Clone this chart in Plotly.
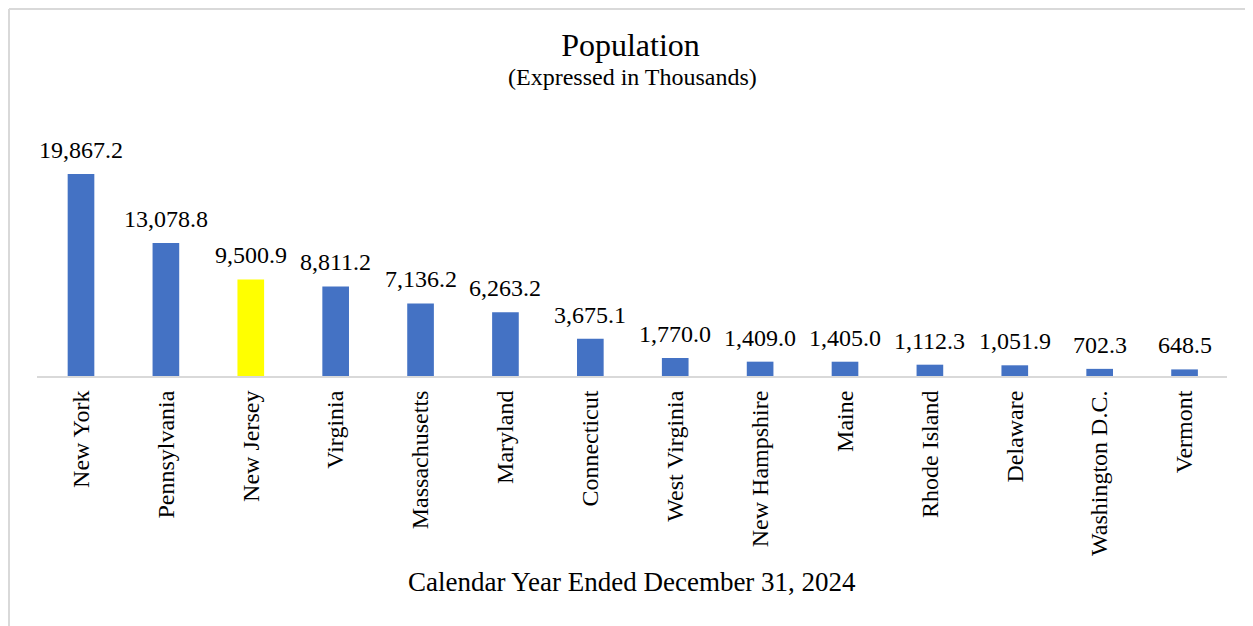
import plotly.graph_objects as go

states = ["New York", "Pennsylvania", "New Jersey", "Virginia", "Massachusetts",
          "Maryland", "Connecticut", "West Virginia", "New Hampshire", "Maine",
          "Rhode Island", "Delaware", "Washington D.C.", "Vermont"]
population = [19867.2, 13078.8, 9500.9, 8811.2, 7136.2, 6263.2, 3675.1,
              1770.0, 1409.0, 1405.0, 1112.3, 1051.9, 702.3, 648.5]
highlight = "New Jersey"

FONT = "Liberation Serif, Times New Roman, serif"
bar_colors = ["#FFFF00" if s == highlight else "#4472C4" for s in states]

fig = go.Figure(go.Bar(
    x=states,
    y=population,
    marker=dict(color=bar_colors, line=dict(width=0)),
    hoverinfo="x+y",
))

# data labels above the bars
for s, v in zip(states, population):
    fig.add_annotation(
        x=s, y=v, text=f"{v:,.1f}", showarrow=False,
        yanchor="bottom", yshift=9,
        font=dict(family=FONT, size=24, color="black"),
    )

# page has an 8px body margin, so figure coords = page coords - 8
W, H = 1245, 618
PL, PR, PT, PB = 29, 1219, 112, 368
pw, ph = PR - PL, PB - PT

def px(x):
    return (x - PL) / pw

def py(y):
    return (PB - y) / ph

fig.add_annotation(
    text="(Expressed in Thousands)", xref="paper", yref="paper",
    x=0.5, y=py(69), yanchor="middle", showarrow=False,
    font=dict(family=FONT, size=24, color="black"),
)
fig.add_annotation(
    text="Calendar Year Ended December 31, 2024", xref="paper", yref="paper",
    x=0.5, y=py(574), yanchor="middle", showarrow=False,
    font=dict(family=FONT, size=27, color="black"),
)

# outer border (top and left edges visible)
border = dict(color="#d9d9d9", width=2)
fig.add_shape(type="line", xref="paper", yref="paper",
              x0=px(1), x1=px(W), y0=py(1), y1=py(1), line=border)
fig.add_shape(type="line", xref="paper", yref="paper",
              x0=px(1), x1=px(1), y0=py(1), y1=py(H), line=border)

fig.update_layout(
    width=W, height=H,
    margin=dict(l=PL, r=W - PR, t=PT, b=H - PB),
    paper_bgcolor="white",
    plot_bgcolor="white",
    showlegend=False,
    bargap=0.686,
    title=dict(text="Population", x=0.5, xanchor="center",
               y=1 - 37 / H, yanchor="middle",
               font=dict(family=FONT, size=32, color="black")),
    font=dict(family=FONT, color="black"),
)
fig.update_xaxes(
    tickangle=-90, tickfont=dict(family=FONT, size=24, color="black"),
    showline=True, linecolor="#d9d9d9", linewidth=2,
    showgrid=False, ticks="", ticklabelstandoff=3,
)
fig.update_yaxes(
    range=[0, ph * 98.35], visible=False, showgrid=False, zeroline=False,
)

fig.write_html("out.html")
